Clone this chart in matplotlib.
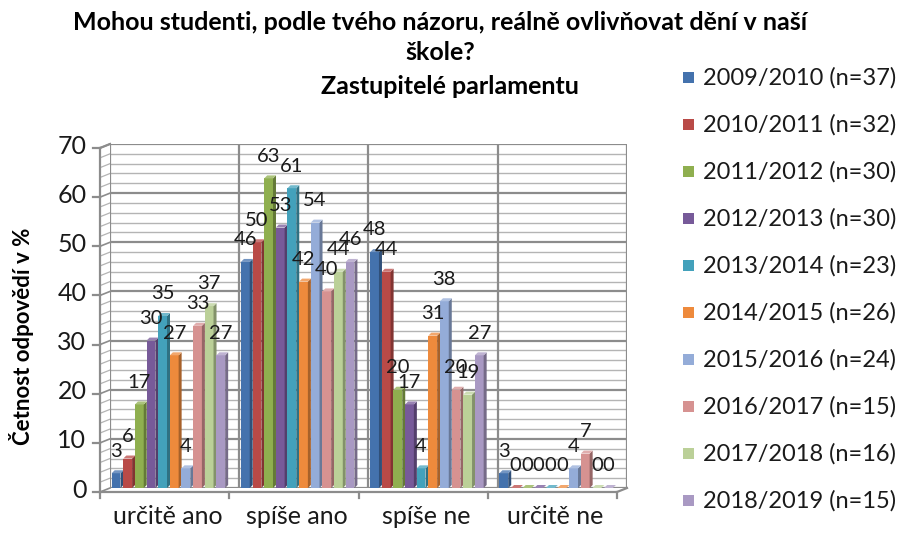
import matplotlib
matplotlib.use("Agg")
import matplotlib.pyplot as plt
from matplotlib.patches import Polygon, Rectangle
import numpy as np

plt.rcParams['font.family'] = ['Lato', 'DejaVu Sans']

# Data
categories = ["určitě ano", "spíše ano", "spíše ne", "určitě ne"]
series_labels = ["2009/2010 (n=37)", "2010/2011 (n=32)", "2011/2012 (n=30)",
                 "2012/2013 (n=30)", "2013/2014 (n=23)", "2014/2015 (n=26)",
                 "2015/2016 (n=24)", "2016/2017 (n=15)", "2017/2018 (n=16)",
                 "2018/2019 (n=15)"]
s2009 = [3, 46, 48, 3]
s2010 = [6, 50, 44, 0]
s2011 = [17, 63, 20, 0]
s2012 = [30, 53, 17, 0]
s2013 = [35, 61, 4, 0]
s2014 = [27, 42, 31, 0]
s2015 = [4, 54, 38, 4]
s2016 = [33, 40, 20, 7]
s2017 = [37, 44, 19, 0]
s2018 = [27, 46, 27, 0]
series = [s2009, s2010, s2011, s2012, s2013, s2014, s2015, s2016, s2017, s2018]

colors = ['#4472AD', '#B94A47', '#8FAF4F', '#775A99', '#43A1BB',
          '#EE8A3C', '#94ACD8', '#D69291', '#BBD098', '#A999C3']

W, H = 901, 535
fig = plt.figure(figsize=(W / 100, H / 100), dpi=100)
ax_l, ax_r, ax_t, ax_b = 110, 627, 144, 488
ax = fig.add_axes([ax_l / W, 1 - ax_b / H, (ax_r - ax_l) / W, (ax_b - ax_t) / H])
ax.set_xlim(-0.5, 3.5)
ax.set_ylim(0, 70)
for sp in ax.spines.values():
    sp.set_visible(False)

px_x = 4.0 / (ax_r - ax_l)       # data units per pixel (x)
px_y = 70.0 / (ax_b - ax_t)      # data units per pixel (y)
dep_x, dep_y = 10 * px_x, 4 * px_y   # 3D depth of walls

# back wall grid + left wall
for y in range(0, 71, 2):
    major = (y % 10 == 0)
    col = '#8C8C8C' if major else '#B4B4B4'
    ax.axhline(y, color=col, lw=1.6 if major else 1.0, zorder=0)
    ax.plot([-0.5 - dep_x, -0.5], [y - dep_y, y], color=col,
            lw=1.2 if major else 0.9, clip_on=False, zorder=0)
for xb in [-0.5, 0.5, 1.5, 2.5, 3.5]:
    ax.axvline(xb, color='#8C8C8C', lw=1.6, zorder=0)

# front axis and floor
ax.plot([-0.5 - dep_x, -0.5 - dep_x], [-dep_y, 70 - dep_y], color='#8C8C8C', lw=1.6, clip_on=False)
ax.plot([-0.5 - dep_x, -0.5], [70 - dep_y, 70], color='#8C8C8C', lw=1.6, clip_on=False)
ax.plot([-0.5 - dep_x, 3.5 - dep_x, 3.5], [-dep_y, -dep_y, 0], color='#8C8C8C', lw=1.6, clip_on=False)
for y in range(0, 71, 10):
    ax.plot([-0.5 - dep_x - 7 * px_x, -0.5 - dep_x], [y - dep_y, y - dep_y],
            color='#8C8C8C', lw=1.6, clip_on=False)
for xb in [-0.5, 0.5, 1.5, 2.5, 3.5]:
    ax.plot([xb - dep_x, xb - dep_x], [-dep_y, -dep_y - 6 * px_y], color='#8C8C8C', lw=1.6, clip_on=False)

ax.set_yticks(range(0, 71, 10))
ax.set_yticklabels([str(v) for v in range(0, 71, 10)], fontsize=18, color='#1a1a1a')
ax.tick_params(axis='y', length=0, pad=17)
ax.set_xticks([i - 7 * px_x for i in range(len(categories))])
ax.set_xticklabels(categories, fontsize=18, color='#1a1a1a')
ax.tick_params(axis='x', length=0, pad=12)


def shade(c, f):
    c = np.array(matplotlib.colors.to_rgb(c))
    if f < 1:
        return tuple(c * f)
    return tuple(c + (1 - c) * (f - 1))


# bars with pseudo-3D faces
pitch = 0.09
front = 0.068
sd_x, sd_y = 3 * px_x, 3 * px_y
off = -0.04
for k, vals in enumerate(series):
    for i, v in enumerate(vals):
        x0 = i + off + (k - 5) * pitch + 0.003
        x1 = x0 + front
        ax.add_patch(Rectangle((x0, 0), front, v, facecolor=colors[k], edgecolor='none', zorder=3))
        ax.add_patch(Polygon([(x1, 0), (x1 + sd_x, sd_y), (x1 + sd_x, v + sd_y), (x1, v)],
                             closed=True, facecolor=shade(colors[k], 0.7), edgecolor='none', zorder=3))
        ax.add_patch(Polygon([(x0, v), (x0 + sd_x, v + sd_y), (x1 + sd_x, v + sd_y), (x1, v)],
                             closed=True, facecolor=shade(colors[k], 1.25), edgecolor='none', zorder=3))
        ax.annotate(str(v), (x0 + front / 2, v), xytext=(0, 16), textcoords='offset points',
                    ha='center', va='center', fontsize=14.5, color='#1a1a1a', zorder=5)

# title
fig.text(440 / W, 1 - 22 / H, "Mohou studenti, podle tvého názoru, reálně ovlivňovat dění v naší",
         ha='center', va='center', fontsize=18, fontweight='bold')
fig.text(440 / W, 1 - 53 / H, "škole?", ha='center', va='center', fontsize=18, fontweight='bold')
fig.text(450 / W, 1 - 86 / H, "Zastupitelé parlamentu", ha='center', va='center',
         fontsize=18, fontweight='bold')

# y label
fig.text(22 / W, 1 - 336 / H, "Četnost odpovědí v %", rotation=90, ha='center', va='center',
         fontsize=16, fontweight='bold')

# legend
for k, lab in enumerate(series_labels):
    yc = 78 + 47 * k
    fig.patches.append(Rectangle((683 / W, 1 - (yc + 5) / H), 11 / W, 11 / H,
                                 transform=fig.transFigure, facecolor=colors[k], edgecolor='none'))
    fig.text(703 / W, 1 - yc / H, lab, ha='left', va='center', fontsize=17, color='#1a1a1a')

fig.savefig("out.png", dpi=100)
